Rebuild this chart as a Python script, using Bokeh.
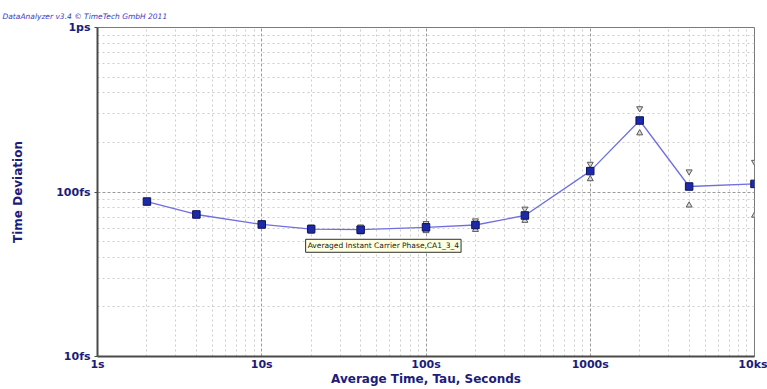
from bokeh.plotting import figure
from bokeh.models import FixedTicker, CustomJSTickFormatter, Label, ColumnDataSource
from bokeh.embed import file_html
from bokeh.resources import INLINE

# Averaging time (s) and time deviation (fs)
tau = [2, 4, 10, 20, 40, 100, 200, 400, 1000, 2000, 4000, 10000]
tdev_fs = [87.5, 73, 63.5, 59.5, 59, 61, 63, 72, 134, 272, 108, 112]
upper_fs = [89, 74.5, 65, 61.5, 61.5, 64.5, 67, 79, 148, 322, 133, 152]
lower_fs = [86, 71.5, 62, 57.5, 57, 58, 59, 67, 120, 228, 83, 72]

x_ticks = [1, 10, 100, 1000, 10000]
x_labels = ["1s", "10s", "100s", "1000s", "10ks"]
y_ticks = [1e-14, 1e-13, 1e-12]
y_labels = ["10fs", "100fs", "1ps"]

src = ColumnDataSource(dict(
    tau=tau,
    tdev=[v * 1e-15 for v in tdev_fs],
    hi=[v * 1e-15 for v in upper_fs],
    lo=[v * 1e-15 for v in lower_fs],
))

NAVY = "#1c1c7c"

p = figure(width=767, height=389, x_axis_type="log", y_axis_type="log",
           x_range=(1, 10000), y_range=(1e-14, 1e-12),
           output_backend="svg", toolbar_location=None,
           min_border_left=97, min_border_right=13,
           min_border_top=27, min_border_bottom=33,
           title="DataAnalyzer v3.4 \u00a9 TimeTech GmbH 2011")
p.background_fill_color = "white"
p.border_fill_color = "white"
p.outline_line_color = "#7a7a7a"
p.outline_line_width = 1

# software credit in the top-left corner
p.title.align = "left"
p.title.offset = -95
p.title.standoff = 10
p.title.vertical_align = "top"
p.title.text_font = "DejaVu Sans"
p.title.text_font_style = "italic"
p.title.text_font_size = "7.5px"
p.title.text_color = "#3a3ac0"

def minors(decades):
    out = []
    for d in decades:
        for k in range(2, 10):
            out.append(k * d)
    return out

p.xaxis.ticker = FixedTicker(ticks=x_ticks, minor_ticks=minors([1, 10, 100, 1000]))
p.yaxis.ticker = FixedTicker(ticks=y_ticks, minor_ticks=minors([1e-14, 1e-13]))

fmt_code = """
const lt = Math.log10(tick);
for (let i = 0; i < vals.length; i++) {
    if (Math.abs(Math.log10(vals[i]) - lt) < 1e-6) return labels[i];
}
return "";
"""
p.xaxis.formatter = CustomJSTickFormatter(args=dict(vals=x_ticks, labels=x_labels), code=fmt_code)
p.yaxis.formatter = CustomJSTickFormatter(args=dict(vals=y_ticks, labels=y_labels), code=fmt_code)

for ax in (p.xaxis, p.yaxis):
    ax.axis_line_color = "#4a4a4a"
    ax.axis_line_width = 2
    ax.major_tick_in = 0
    ax.major_tick_out = 3
    ax.major_tick_line_color = "#4a4a4a"
    ax.minor_tick_in = 0
    ax.minor_tick_out = 0
    ax.major_label_text_font = "DejaVu Sans"
    ax.major_label_text_font_style = "bold"
    ax.major_label_text_font_size = "11px"
    ax.major_label_text_color = NAVY
    ax.axis_label_text_font = "DejaVu Sans"
    ax.axis_label_text_font_style = "bold"
    ax.axis_label_text_font_size = "12px"
    ax.axis_label_text_color = NAVY

p.xaxis.axis_label = "Average Time, Tau, Seconds"
p.yaxis.axis_label = "Time Deviation"
p.xaxis.major_tick_out = 0
p.xaxis.major_label_standoff = 1
p.xaxis.axis_label_standoff = -2
p.yaxis.major_label_standoff = 4
p.yaxis.axis_label_standoff = 28

for g in (p.xgrid, p.ygrid):
    g.grid_line_color = "#9a9a9a"
    g.grid_line_dash = "3 2"
    g.grid_line_width = 1
    g.minor_grid_line_color = "#cccccc"
    g.minor_grid_line_dash = "2 3"
    g.minor_grid_line_width = 1

# connecting line and data markers
p.line("tau", "tdev", source=src, line_color="#6f6fe0", line_width=1.3)
p.scatter("tau", "hi", source=src, marker="inverted_triangle", size=6,
          fill_color="#d8d8d8", line_color="#5a5a5a", line_width=1)
p.scatter("tau", "lo", source=src, marker="triangle", size=6,
          fill_color="#d8d8d8", line_color="#5a5a5a", line_width=1)
p.scatter("tau", "tdev", source=src, marker="square", size=7.5,
          fill_color="#1a2aa8", line_color="#12125a", line_width=1)

# series tag
p.add_layout(Label(x=18.5, y=4.3e-14, text="Averaged Instant Carrier Phase,CA1_3_4",
                   text_font="DejaVu Sans", text_font_size="7.5px", text_color="#202020",
                   background_fill_color="#ffffe1", border_line_color="#303030",
                   border_line_width=1, padding=2,
                   text_baseline="bottom", text_align="left"))

open("out.html", "w").write(file_html(p, INLINE))
